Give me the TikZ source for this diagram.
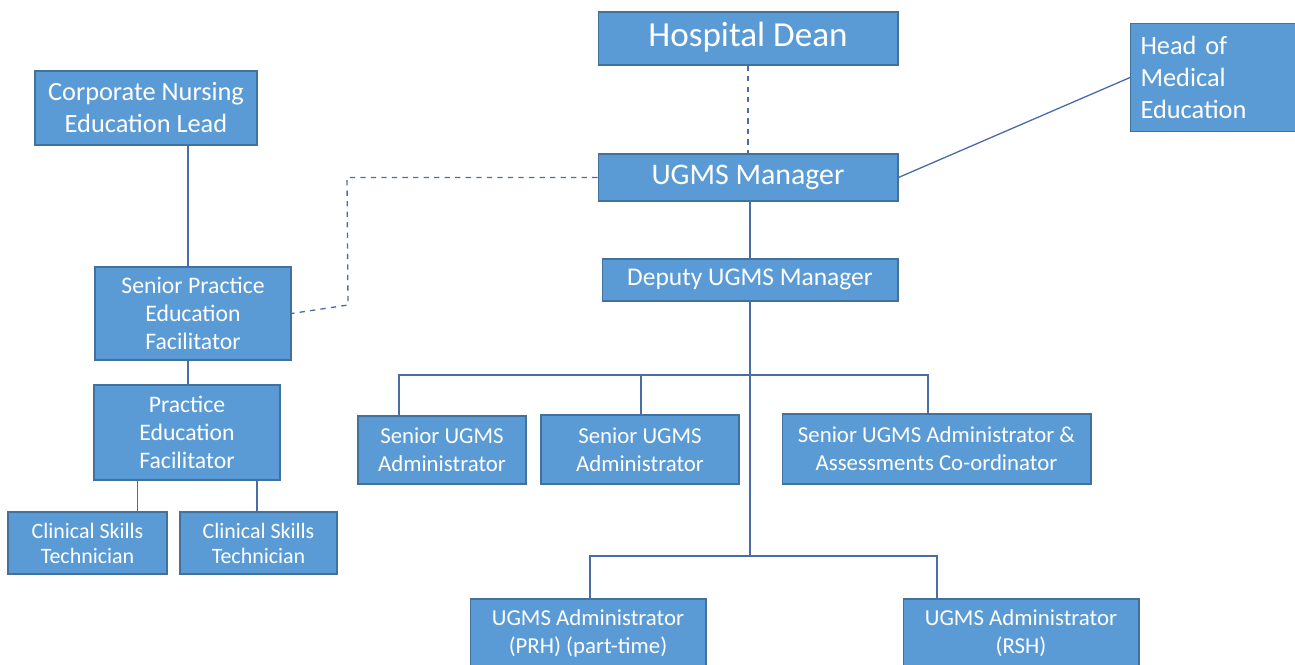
\documentclass[tikz,border=0pt]{standalone}
\usepackage{fontspec}
\setmainfont{Carlito}
\begin{document}
\begin{tikzpicture}[x=0.02cm, y=-0.02cm,
	box/.style={draw=boxline, line width=0.6pt, fill=boxfill, text=white, align=center, inner sep=2pt},
	link/.style={draw=linkcol, line width=0.75pt},
	dashlink/.style={link, dashed}]
	\definecolor{boxfill}{HTML}{5B9BD5}
	\definecolor{boxline}{HTML}{41719C}
	\definecolor{linkcol}{HTML}{4A6DA7}
	\useasboundingbox (0,0) rectangle (1295,664);
	
	% top of the chart
	\node[box, minimum width=6cm, minimum height=1.06cm, font=\fontsize{20}{24}\selectfont] (dean) at (748,38.5) {\strut Hospital Dean};
	\node[box, minimum width=6cm, minimum height=0.94cm, font=\fontsize{17}{20}\selectfont] (mgr) at (748,177.5) {\strut UGMS Manager};
	\node[box, anchor=north west, text width=3.2cm, inner xsep=0.2cm, minimum height=2.16cm, align=left, font=\fontsize{15}{18.2}\selectfont] (head) at (1130,23) {Head of\\Medical\\Education};
	\node[box, minimum width=5.92cm, minimum height=0.84cm, font=\fontsize{14.5}{17}\selectfont] (dep) at (750,280) {\strut Deputy UGMS Manager};
	
	% nursing side
	\node[box, minimum width=4.44cm, minimum height=1.48cm, font=\fontsize{15}{18.2}\selectfont] (corp) at (146,108) {Corporate Nursing\\Education Lead};
	\node[box, minimum width=3.92cm, minimum height=1.86cm, font=\fontsize{13.5}{15.9}\selectfont] (spef) at (193,313.5) {Senior Practice\\Education\\Facilitator};
	\node[box, minimum width=3.72cm, minimum height=1.9cm, font=\fontsize{13.5}{15.9}\selectfont] (pef) at (187,432.5) {Practice\\Education\\Facilitator};
	\node[box, minimum width=3.18cm, minimum height=1.24cm, font=\fontsize{12.5}{14.2}\selectfont] (cst1) at (87.5,543) {Clinical Skills\\Technician};
	\node[box, minimum width=3.14cm, minimum height=1.24cm, font=\fontsize{12.5}{14.2}\selectfont] (cst2) at (258.5,543) {Clinical Skills\\Technician};
	
	% administrators
	\node[box, minimum width=3.36cm, minimum height=1.36cm, font=\fontsize{13}{15.9}\selectfont] (sua1) at (442,450) {Senior UGMS\\Administrator};
	\node[box, minimum width=3.96cm, minimum height=1.38cm, font=\fontsize{13}{15.9}\selectfont] (sua2) at (640,449.5) {Senior UGMS\\Administrator};
	\node[box, minimum width=6.18cm, minimum height=1.4cm, font=\fontsize{13}{15.9}\selectfont] (sua3) at (936.5,449) {Senior UGMS Administrator \&\\Assessments Co-ordinator};
	\node[box, minimum width=4.72cm, minimum height=1.38cm, font=\fontsize{13}{15.9}\selectfont] (ua1) at (588,633.5) {UGMS Administrator\\(PRH) (part-time)};
	\node[box, minimum width=4.72cm, minimum height=1.38cm, font=\fontsize{13}{15.9}\selectfont] (ua2) at (1021,633.5) {UGMS Administrator\\(RSH)};
	
	% bends and bus points
	\coordinate (dk1) at (347,177.5);
	\coordinate (dk2) at (348,305);
	\coordinate (j1) at (750,375);
	\coordinate (j2) at (750,556);
	\coordinate (d1) at (399,375);
	\coordinate (d2) at (641,375);
	\coordinate (d3) at (928,375);
	\coordinate (e1) at (590,556);
	\coordinate (e2) at (937,556);
	
	% connectors
	\draw[dashlink] (dean) -- (mgr);
	\draw[dashlink] (mgr.west) -- (dk1) -- (dk2) -- (spef.east);
	\draw[link] (mgr.east) -- (head.west);
	\draw[link] ([xshift=-0.1cm]spef.north) -- ([xshift=-0.1cm]spef.north |- corp.south);
	\draw[link] ([xshift=0.02cm]pef.north) -- ([xshift=0.02cm]pef.north |- spef.south);
	\draw[link] ([xshift=1cm]cst1.north) -- ([xshift=1cm]cst1.north |- pef.south);
	\draw[link] ([xshift=-0.03cm]cst2.north) -- ([xshift=-0.03cm]cst2.north |- pef.south);
	\draw[link] (dep.north) -- (dep.north |- mgr.south);
	\draw[link] (dep.south) -- (j2);
	\draw[link] (d1 |- sua1.north) -- (d1) -- (d3) -- (d3 |- sua3.north);
	\draw[link] (d2) -- (d2 |- sua2.north);
	\draw[link] (e1 |- ua1.north) -- (e1) -- (e2) -- (e2 |- ua2.north);
	
\end{tikzpicture}
\end{document}
